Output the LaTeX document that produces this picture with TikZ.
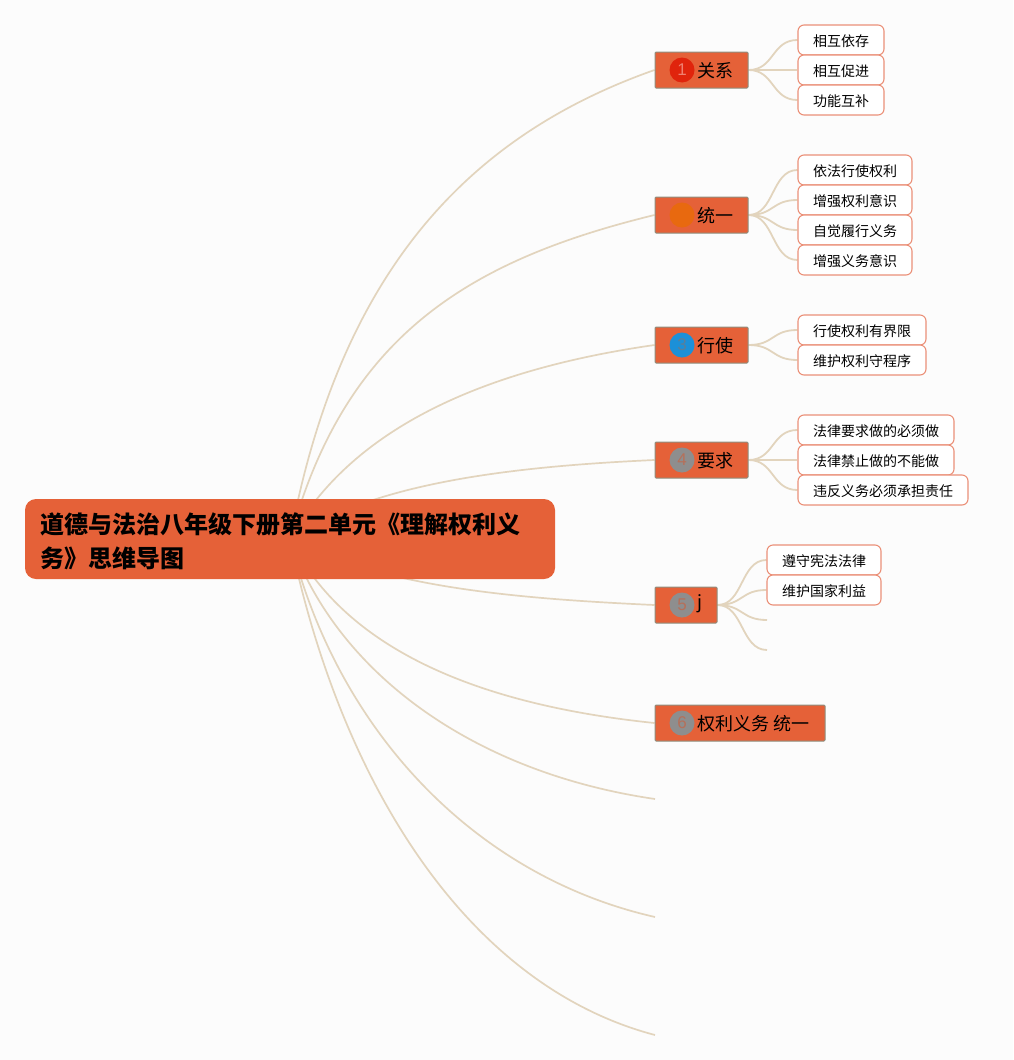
\documentclass[tikz,border=0pt]{standalone}
\usepackage{fontspec}
\setmainfont{Noto Sans CJK SC}
\setsansfont{Liberation Sans}
\usetikzlibrary{backgrounds}
\definecolor{bgc}{HTML}{FCFCFC}
\definecolor{org}{HTML}{E56138}
\definecolor{linkc}{HTML}{E2D4BD}
\definecolor{leafb}{HTML}{EB9078}
\definecolor{bordg}{HTML}{8F8F7F}
\definecolor{grayb}{HTML}{8E8E8E}
\definecolor{cred}{HTML}{E0240C}
\definecolor{corg}{HTML}{E8690F}
\definecolor{cblu}{HTML}{1C90D8}
\definecolor{tred}{HTML}{F08070}
\definecolor{tblu}{HTML}{5A7F9A}
\definecolor{tgry}{HTML}{B5705A}
\tikzset{
 x=1pt,y=-1pt,
 rootbox/.style={fill=org,rounded corners=11pt,minimum width=530pt,minimum height=80pt,inner sep=0pt},
 roottext/.style={anchor=north west,inner sep=0pt,align=left,font=\fontsize{24pt}{34pt}\selectfont\bfseries},
 branch/.style={fill=org,draw=bordg,line width=1pt,rounded corners=1pt,minimum height=36pt,inner sep=0pt},
 blabel/.style={anchor=west,inner sep=0pt,font=\fontsize{18pt}{20pt}\selectfont},
 badge/.style={circle,minimum size=25pt,inner sep=0pt,font=\sffamily\fontsize{17pt}{17pt}\selectfont},
 leaf/.style={fill=white,draw=leafb,line width=1.1pt,rounded corners=6pt,minimum height=30pt,inner sep=0pt,text height=14pt,text depth=1pt,font=\fontsize{14pt}{16pt}\selectfont},
 mainlink/.style={draw=linkc,line width=1.7pt},
 sublink/.style={draw=linkc,line width=1.8pt},
}
\newcommand{\sublnk}[2]{\draw[sublink] (#1.east) .. controls +(26,0) and ([xshift=-26pt]#2.west) .. (#2.west);}
\newcommand{\mkleaf}[4]{\node[leaf,minimum width=#3pt] (#1) at #2 {#4};}
\begin{document}
\begin{tikzpicture}
\useasboundingbox (0,0) rectangle (1013,1060);
% root
\node[rootbox] (root) at (290,539) {};
\node[roottext] (roott) at (40.5,512.5) {道德与法治八年级下册第二单元《理解权利义\\务》思维导图};
% branches
\node[branch,minimum width=93pt] (b1) at (701.5,70) {};
\node[branch,minimum width=93pt] (b2) at (701.5,215) {};
\node[branch,minimum width=93pt] (b3) at (701.5,345) {};
\node[branch,minimum width=93pt] (b4) at (701.5,460) {};
\node[branch,minimum width=62pt] (b5) at (686,605) {};
\node[branch,minimum width=170pt] (b6) at (740,723) {};
\node[badge,fill=cred,text=tred] (c1) at (682,70) {1};
\node[badge,fill=corg,text=corg] (c2) at (682,215) {2};
\node[badge,fill=cblu,text=tblu] (c3) at (682,345) {3};
\node[badge,fill=grayb,text=tgry] (c4) at (682,460) {4};
\node[badge,fill=grayb,text=tgry] (c5) at (682,605) {5};
\node[badge,fill=grayb,text=tgry] (c6) at (682,723) {6};
\node[blabel] (l1) at (697.5,71) {关系};
\node[blabel] (l2) at (697.5,216) {统一};
\node[blabel] (l3) at (697.5,346) {行使};
\node[blabel] (l4) at (697.5,461) {要求};
\node[blabel] (l5) at (697.5,604) {j};
\node[blabel] (l6) at (697.5,724) {权利义务 统一};
% leaves
\mkleaf{a1}{(841,40)}{86}{相互依存}
\mkleaf{a2}{(841,70)}{86}{相互促进}
\mkleaf{a3}{(841,100)}{86}{功能互补}
\mkleaf{d1}{(855,170)}{114}{依法行使权利}
\mkleaf{d2}{(855,200)}{114}{增强权利意识}
\mkleaf{d3}{(855,230)}{114}{自觉履行义务}
\mkleaf{d4}{(855,260)}{114}{增强义务意识}
\mkleaf{e1}{(862,330)}{128}{行使权利有界限}
\mkleaf{e2}{(862,360)}{128}{维护权利守程序}
\mkleaf{f1}{(876,430)}{156}{法律要求做的必须做}
\mkleaf{f2}{(876,460)}{156}{法律禁止做的不能做}
\mkleaf{f3}{(883,490)}{170}{违反义务必须承担责任}
\mkleaf{g1}{(824,560)}{114}{遵守宪法法律}
\mkleaf{g2}{(824,590)}{114}{维护国家利益}
\coordinate (g3) at (767,620);
\coordinate (g4) at (767,650);
\coordinate (b7) at (655,799);
\coordinate (b8) at (655,917);
\coordinate (b9) at (655,1035);
\begin{pgfonlayer}{background}
\fill[bgc] (0,0) rectangle (1013,1060);
\draw[mainlink] (root.center) .. controls (340,270) and (470,135) .. (b1.west);
\draw[mainlink] (root.center) .. controls (345,335) and (470,260) .. (b2.west);
\draw[mainlink] (root.center) .. controls (350,430) and (480,370) .. (b3.west);
\draw[mainlink] (root.center) .. controls (370,485) and (500,467) .. (b4.west);
\draw[mainlink] (root.center) .. controls (380,585) and (500,598) .. (b5.west);
\draw[mainlink] (root.center) .. controls (345,650) and (480,705) .. (b6.west);
\draw[mainlink] (root.center) .. controls (335,670) and (470,772) .. (b7);
\draw[mainlink] (root.center) .. controls (335,725) and (470,875) .. (b8);
\draw[mainlink] (root.center) .. controls (340,780) and (465,985) .. (b9);
\sublnk{b1}{a1}\sublnk{b1}{a2}\sublnk{b1}{a3}
\sublnk{b2}{d1}\sublnk{b2}{d2}\sublnk{b2}{d3}\sublnk{b2}{d4}
\sublnk{b3}{e1}\sublnk{b3}{e2}
\sublnk{b4}{f1}\sublnk{b4}{f2}\sublnk{b4}{f3}
\sublnk{b5}{g1}\sublnk{b5}{g2}
\draw[sublink] (b5.east) .. controls +(26,0) and ([xshift=-26pt]g3) .. (g3);
\draw[sublink] (b5.east) .. controls +(26,0) and ([xshift=-26pt]g4) .. (g4);
\end{pgfonlayer}
\end{tikzpicture}
\end{document}
